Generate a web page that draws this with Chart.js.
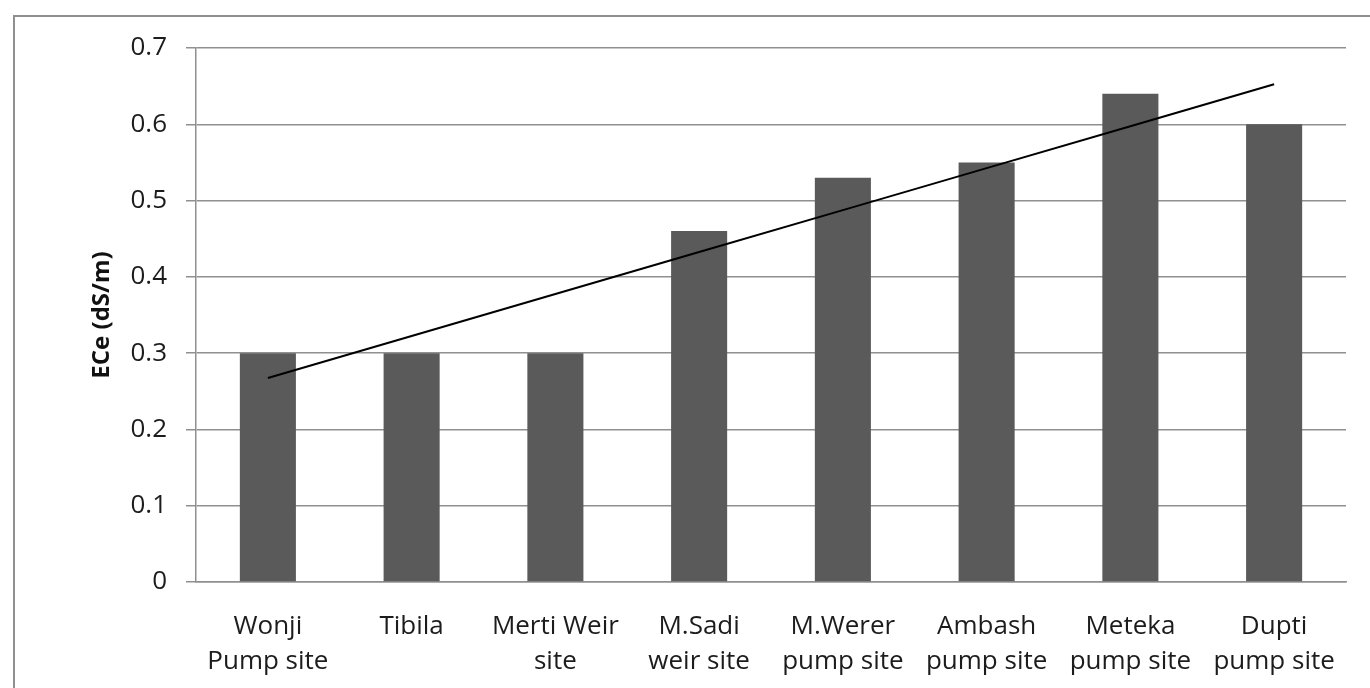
<!DOCTYPE html>
<html>
<head>
<meta charset="utf-8">
<script src="https://cdn.jsdelivr.net/npm/chart.js@4/dist/chart.umd.min.js"></script>
<style>
  html, body { margin: 0; padding: 0; background: #fff; }
  #wrap { position: relative; width: 1370px; height: 688px; overflow: hidden; }
  #frame { position: absolute; left: 13px; top: 15px; width: 1400px; height: 700px;
           border-left: 2px solid #8f8f8f; border-top: 2px solid #8f8f8f; box-sizing: border-box; }
  canvas { position: absolute; left: 0; top: 0; }
</style>
</head>
<body>
<div id="wrap">
  <div id="frame"></div>
  <canvas id="c" width="1370" height="688"></canvas>
</div>
<script>
const categories = [
  ["Wonji", "Pump site"],
  ["Tibila"],
  ["Merti Weir", "site"],
  ["M.Sadi", "weir site"],
  ["M.Werer", "pump site"],
  ["Ambash", "pump site"],
  ["Meteka", "pump site"],
  ["Dupti", "pump site"]
];
const eceValues = [0.30, 0.30, 0.30, 0.46, 0.53, 0.55, 0.64, 0.60];
const yTicks = [0, 0.1, 0.2, 0.3, 0.4, 0.5, 0.6, 0.7];
const yTitle = "ECe (dS/m)";

// Linear trendline (least squares) computed from the bar values
function linearTrend(vals) {
  const n = vals.length;
  let sx = 0, sy = 0, sxy = 0, sxx = 0;
  vals.forEach((v, i) => { sx += i; sy += v; sxy += i * v; sxx += i * i; });
  const slope = (n * sxy - sx * sy) / (n * sxx - sx * sx);
  const icpt = (sy - slope * sx) / n;
  return vals.map((_, i) => icpt + slope * i);
}
const trend = linearTrend(eceValues);

const font = "'Open Sans', 'Lato', sans-serif";

new Chart(document.getElementById('c'), {
  data: {
    labels: categories,
    datasets: [
      {
        type: 'line',
        data: trend,
        borderColor: '#000',
        borderWidth: 2,
        pointRadius: 0,
        fill: false,
        order: 0
      },
      {
        type: 'bar',
        data: eceValues,
        backgroundColor: '#5a5a5a',
        borderWidth: 0,
        barPercentage: 0.39,
        categoryPercentage: 1.0,
        order: 1
      }
    ]
  },
  options: {
    responsive: false,
    animation: false,
    events: [],
    layout: { padding: { left: 85, top: 48, right: 24, bottom: 0 } },
    plugins: { legend: { display: false }, tooltip: { enabled: false } },
    scales: {
      x: {
        grid: { display: false, drawTicks: false },
        border: { display: true, color: '#8f8f8f', width: 1.5 },
        ticks: {
          color: '#1c1c1c',
          font: { family: font, size: 26, lineHeight: 1.35 },
          padding: 27,
          maxRotation: 0,
          autoSkip: false
        },
        afterFit(s) { s.height = 106; }
      },
      y: {
        min: 0,
        max: 0.7,
        afterBuildTicks(s) { s.ticks = yTicks.map(v => ({ value: v })); },
        grid: { color: '#909090', lineWidth: 1.5, tickLength: 10 },
        border: { display: true, color: '#8f8f8f', width: 1.5 },
        ticks: {
          color: '#1c1c1c',
          font: { family: font, size: 26 },
          padding: 19,
          callback: v => (v === 0 ? '0' : v.toFixed(1))
        },
        title: {
          display: true,
          text: yTitle,
          color: '#111',
          font: { family: font, size: 24, weight: 'bold', lineHeight: 1.2 },
          padding: { top: 3, bottom: 0 }
        },
        afterFit(s) { s.width = 111; }
      }
    }
  }
});
</script>
</body>
</html>
